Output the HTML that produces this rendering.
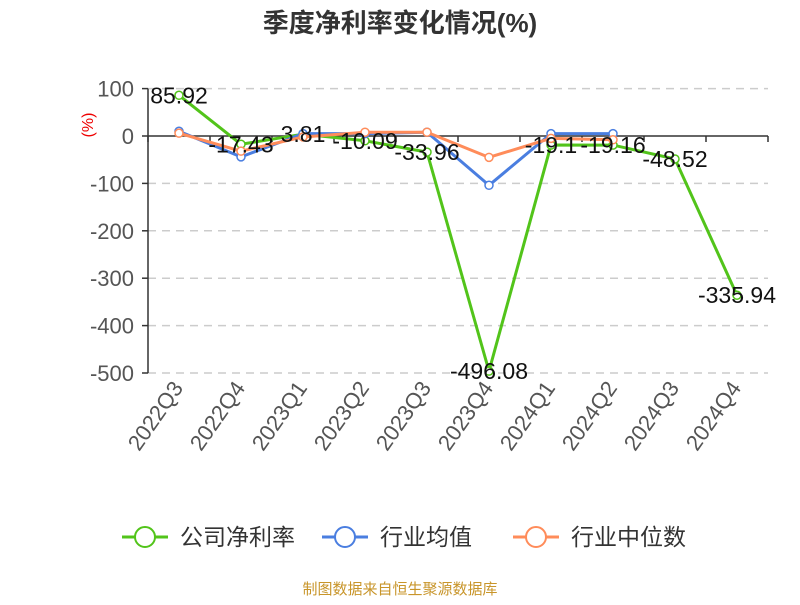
<!DOCTYPE html>
<html><head><meta charset="utf-8"><style>
body{margin:0;background:#fff}
svg text{font-family:"Liberation Sans","Noto Sans CJK SC",sans-serif}
</style></head><body>
<svg width="800" height="600" xmlns="http://www.w3.org/2000/svg">
<text x="400" y="32" text-anchor="middle" font-size="26" font-weight="bold" fill="#333">季度净利率变化情况(%)</text>
<text transform="translate(93,125) rotate(-90)" text-anchor="middle" font-size="16" fill="#e00">(%)</text>
<g id="grid"></g><g id="axes"></g><g id="series"></g><g id="labels"></g>
<g>
<g><line x1="122" y1="537" x2="168" y2="537" stroke="#52c41a" stroke-width="3"/><circle cx="145" cy="537" r="10" fill="#fff" stroke="#52c41a" stroke-width="2"/><text x="180" y="545" font-size="23" fill="#333">公司净利率</text></g>
<g><line x1="322" y1="537" x2="368" y2="537" stroke="#4a7ee0" stroke-width="3"/><circle cx="345" cy="537" r="10" fill="#fff" stroke="#4a7ee0" stroke-width="2"/><text x="380" y="545" font-size="23" fill="#333">行业均值</text></g>
<g><line x1="513" y1="537" x2="559" y2="537" stroke="#ff8c5a" stroke-width="3"/><circle cx="536" cy="537" r="10" fill="#fff" stroke="#ff8c5a" stroke-width="2"/><text x="571" y="545" font-size="23" fill="#333">行业中位数</text></g>
</g>
<text x="400" y="594" text-anchor="middle" font-size="15" fill="#c8952a">制图数据来自恒生聚源数据库</text>
</svg>
<script>
const categories=["2022Q3","2022Q4","2023Q1","2023Q2","2023Q3","2023Q4","2024Q1","2024Q2","2024Q3","2024Q4"];
const companyValues=[85.92,-17.43,3.81,-10.09,-33.96,-496.08,-19.1,-19.16,-48.52,-335.94];
const meanValues=[10,-44,5,5,8,-104,5,5];
const medianValues=[6,-32,-2,8,8,-45,-5,-8];
const yTicks=[100,0,-100,-200,-300,-400,-500];
const NS="http://www.w3.org/2000/svg";
const L=148,R=768,bw=(R-L)/categories.length;
const x=i=>L+bw*(i+0.5);
const y=v=>136-v*0.474;
function mk(tag,attrs,parent,txt){const e=document.createElementNS(NS,tag);for(const k in attrs)e.setAttribute(k,attrs[k]);if(txt!=null)e.textContent=txt;document.getElementById(parent).appendChild(e);return e;}
yTicks.forEach(t=>{
 if(t!==0){const g=mk('line',{x1:L,x2:R,y1:y(t),y2:y(t),stroke:'#ccc','stroke-dasharray':'8,6','stroke-width':1.5},'grid');
 
 }
 const tk=mk('line',{x1:L-6,x2:L,y1:y(t),y2:y(t),stroke:'#333','stroke-width':1.5},'axes');
 
 
 const tl=mk('text',{x:L-14,y:y(t)+8,'text-anchor':'end','font-size':22,fill:'#555'},'axes',t);
 
 
});
const ya=mk('line',{x1:L,x2:L,y1:y(100),y2:y(-500),stroke:'#333','stroke-width':1.5},'axes');


const xa=mk('line',{x1:L,x2:R,y1:y(0),y2:y(0),stroke:'#333','stroke-width':1.5},'axes');


for(let i=0;i<=categories.length;i++){const t=mk('line',{x1:L+bw*i,x2:L+bw*i,y1:y(0),y2:y(0)+6,stroke:'#333','stroke-width':1.5},'axes');
 
 }
categories.forEach((c,i)=>{const t=mk('text',{transform:`translate(${x(i)+5},${388}) rotate(-55)`,'text-anchor':'end','font-size':22,fill:'#555'},'axes',c);
 
 });
function series(vals,color,name){
 const p=mk('polyline',{points:vals.map((v,i)=>x(i)+','+y(v)).join(' '),fill:'none',stroke:color,'stroke-width':3,'stroke-linejoin':'round'},'series');
 
 
 vals.forEach((v,i)=>{const c=mk('circle',{cx:x(i),cy:y(v),r:4,fill:'#fff',stroke:color,'stroke-width':1.5},'series');
 
 });
}
series(companyValues,'#52c41a','company');
series(meanValues,'#4a7ee0','mean');
series(medianValues,'#ff8c5a','median');
companyValues.forEach((v,i)=>{const t=mk('text',{x:x(i),y:y(v)+8,'text-anchor':'middle','font-size':23,fill:'#111'},'labels',v);
 
 });
</script>
</body></html>
